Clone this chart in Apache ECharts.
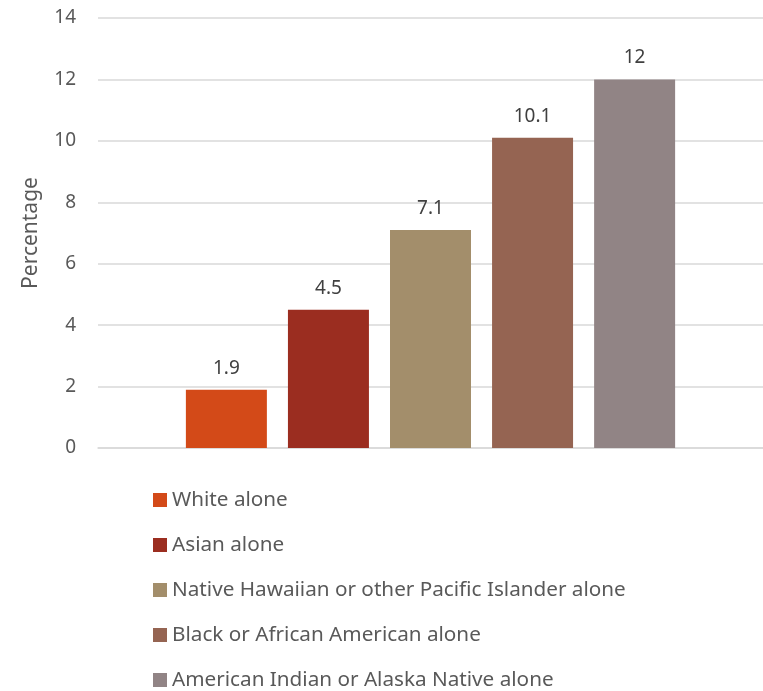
<!DOCTYPE html>
<html>
<head>
<meta charset="utf-8">
<script src="https://cdn.jsdelivr.net/npm/echarts@6/dist/echarts.min.js"></script>
<style>
html,body{margin:0;padding:0;background:#fff;}
#chart{width:763px;height:691px;}
</style>
</head>
<body>
<div id="chart"></div>
<script>
const seriesNames = [
  'White alone',
  'Asian alone',
  'Native Hawaiian or other Pacific Islander alone',
  'Black or African American alone',
  'American Indian or Alaska Native alone'
];
const seriesValues = [1.9, 4.5, 7.1, 10.1, 12];
const seriesColors = ['#D34A18', '#9B2D20', '#A38E6B', '#956452', '#918485'];
const categories = [''];
const yTicks = { min: 0, max: 14, interval: 2 };

const FONT = '"Noto Sans", "Open Sans", sans-serif';
const chart = echarts.init(document.getElementById('chart'), null, {renderer: 'canvas'});

const series = seriesNames.map((name, i) => ({
  name: name,
  type: 'bar',
  data: [seriesValues[i]],
  barWidth: 81,
  barGap: '26%',
  itemStyle: { color: seriesColors[i] },
  label: {
    show: true,
    position: 'top',
    distance: 12,
    color: '#404040',
    fontFamily: FONT,
    fontSize: 19
  }
}));

chart.setOption({
  animation: false,
  grid: { left: 98, right: 0, top: 18, bottom: 243, containLabel: false },
  legend: {
    orient: 'vertical',
    left: 148,
    top: 484,
    height: 210,
    itemWidth: 14,
    itemHeight: 14,
    itemGap: 23,
    icon: 'rect',
    textStyle: { color: '#595959', fontFamily: FONT, fontSize: 20.7, lineHeight: 22 },
    data: seriesNames
  },
  xAxis: {
    type: 'category',
    data: categories,
    axisLine: { lineStyle: { color: '#D9D9D9', width: 1.5 } },
    axisTick: { show: false },
    axisLabel: { show: false }
  },
  yAxis: {
    type: 'value',
    min: yTicks.min,
    max: yTicks.max,
    interval: yTicks.interval,
    name: 'Percentage',
    nameLocation: 'middle',
    nameGap: 56,
    nameTextStyle: { color: '#595959', fontFamily: FONT, fontSize: 21 },
    axisLine: { show: false },
    axisTick: { show: false },
    axisLabel: { color: '#595959', fontFamily: FONT, fontSize: 19, margin: 22 },
    splitLine: { lineStyle: { color: '#D9D9D9', width: 1.5 } }
  },
  series: series
});
</script>
</body>
</html>
